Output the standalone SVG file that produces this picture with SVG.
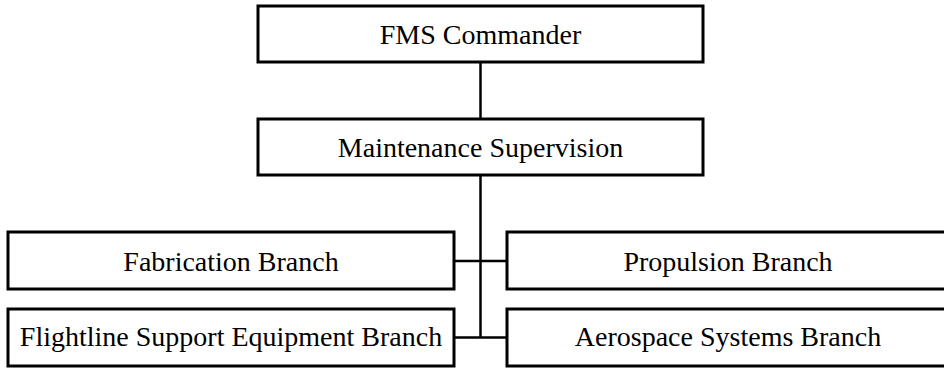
<svg xmlns="http://www.w3.org/2000/svg" width="944" height="370" viewBox="0 0 944 370">
<style>
.box{fill:#fff;stroke:#000;stroke-width:3}
.lbl{font-family:"Liberation Serif","Times New Roman",serif;font-size:28px;fill:#000;text-anchor:middle}
.con{stroke:#000;stroke-width:2.5;fill:none}
</style>
<rect width="944" height="370" fill="#fff"/>
<g id="connectors">
<line class="con" x1="480.5" y1="62" x2="480.5" y2="119"/>
<line class="con" x1="480.5" y1="175" x2="480.5" y2="337.5"/>
<line class="con" x1="454" y1="261" x2="507" y2="261"/>
<line class="con" x1="454" y1="337.5" x2="507" y2="337.5"/>
</g>
<g id="fms-commander">
<rect class="box" x="258" y="6" width="445" height="56"/>
<text class="lbl" x="480.5" y="43.5">FMS Commander</text>
</g>
<g id="maintenance-supervision">
<rect class="box" x="258" y="119" width="445" height="56"/>
<text class="lbl" x="480.5" y="157">Maintenance Supervision</text>
</g>
<g id="fabrication-branch">
<rect class="box" x="8" y="232" width="446" height="57"/>
<text class="lbl" x="231" y="270.5">Fabrication Branch</text>
</g>
<g id="flightline-branch">
<rect class="box" x="8" y="309" width="446" height="57"/>
<text class="lbl" x="231" y="346">Flightline Support Equipment Branch</text>
</g>
<g id="propulsion-branch">
<rect class="box" x="507" y="232" width="442" height="57"/>
<text class="lbl" x="728" y="270.5">Propulsion Branch</text>
</g>
<g id="aerospace-branch">
<rect class="box" x="507" y="309" width="442" height="57"/>
<text class="lbl" x="728" y="346">Aerospace Systems Branch</text>
</g>
</svg>
